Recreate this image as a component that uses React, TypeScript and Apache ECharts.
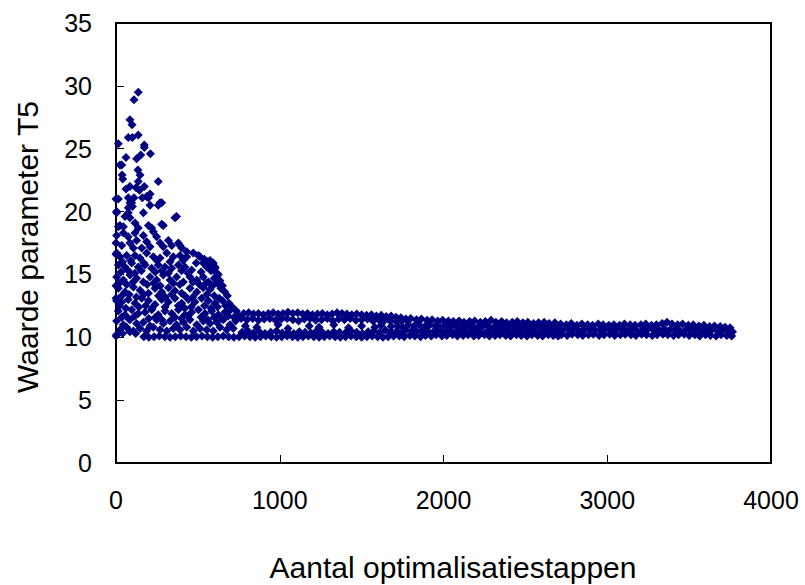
import React, { useEffect, useRef } from "react";
import * as echarts from "echarts";

// Axis settings and titles
const xTitle = "Aantal optimalisatiestappen";
const yTitle = "Waarde parameter T5";
const xTicks = [0, 1000, 2000, 3000, 4000];
const yTicks = [0, 5, 10, 15, 20, 25, 30, 35];

// Early phase: sparse upper points (step, T5)
const earlyUpper: number[][] = [
  [136, 29.5], [110, 28.9], [85, 27.3], [98, 26.9], [75, 25.9], [100, 25.9], [136, 26.1], [14, 25.4],
  [173, 25.3], [173, 25.1], [61, 24.3], [126, 24.2], [151, 24.5], [210, 24.6], [35, 23.7], [24, 23.7],
  [134, 23.3], [147, 22.9], [37, 22.9], [41, 22.6], [136, 22.4], [258, 22.4], [85, 22.0], [122, 21.9],
  [173, 22.0], [61, 21.8], [143, 21.7], [208, 21.4], [198, 21.1], [14, 21.0], [75, 21.1], [110, 21.1],
  [161, 21.1], [85, 20.7], [100, 20.4], [208, 20.5], [269, 20.7], [258, 20.5], [75, 20.3], [279, 20.7],
  [360, 19.5], [370, 19.6], [279, 19.0], [289, 18.9], [187, 21.2], [0, 21.0], [0, 17.5], [0, 16.6],
  [0, 14.1], [0, 13.1], [381, 17.5], [391, 17.3], [320, 17.7], [503, 16.5], [513, 16.4], [574, 16.1],
  [594, 15.9], [605, 15.6], [615, 15.1], [96, 20.7], [4, 20.0], [75, 19.9], [55, 19.6], [85, 19.5],
  [167, 19.9], [24, 18.9], [45, 18.8], [116, 19.1], [136, 18.7], [198, 18.9], [218, 18.7], [4, 18.1],
  [45, 18.3], [75, 18.0], [116, 18.3], [126, 17.7], [167, 18.1], [187, 17.6], [228, 18.4], [248, 18.0],
  [35, 17.3], [85, 17.5], [106, 17.1], [157, 17.1], [208, 17.2], [269, 17.5], [289, 17.2], [340, 17.3],
  [401, 17.1], [432, 16.8], [14, 18.8], [4, 19.9]
];

// Early phase: dense cloud between ~10 and ~16.5
const earlyDense: number[][] = [
  [4, 16.7], [24, 16.4], [65, 16.5], [116, 16.5], [147, 16.3], [187, 16.7], [228, 16.4], [269, 16.3],
  [310, 16.7], [350, 16.4], [391, 16.5], [432, 16.4], [472, 16.7], [540, 16.2],
  [40, 16.0], [90, 16.1], [170, 15.9], [250, 16.1], [330, 16.0], [410, 16.1], [490, 15.9], [560, 16.0], [590, 15.8],
  [14, 15.75], [55, 15.6], [96, 15.9], [136, 15.6], [177, 15.75], [218, 15.5], [258, 15.75], [299, 15.6],
  [340, 15.5], [381, 15.75], [421, 15.6], [462, 15.35], [533, 15.9], [554, 15.6], [605, 15.5],
  [30, 15.2], [75, 15.3], [115, 15.1], [155, 15.3], [240, 15.2], [280, 15.3], [320, 15.1], [400, 15.3],
  [440, 15.1], [520, 15.2], [580, 15.3], [625, 15.0],
  [4, 14.8], [45, 14.55], [85, 14.95], [126, 14.7], [167, 14.4], [208, 14.8], [248, 14.55], [289, 14.95],
  [330, 14.55], [370, 14.8], [411, 14.4], [452, 14.8], [493, 14.55], [533, 14.8], [564, 14.4], [600, 14.7], [635, 14.5],
  [20, 14.3], [65, 14.2], [105, 14.4], [190, 14.2], [230, 14.3], [270, 14.1], [350, 14.3], [390, 14.2],
  [470, 14.4], [510, 14.2], [550, 14.3], [590, 14.1], [620, 14.3], [650, 14.1],
  [14, 13.9], [55, 13.6], [106, 14.0], [147, 13.75], [198, 13.5], [238, 13.9], [279, 13.6], [320, 13.95],
  [360, 13.7], [401, 13.5], [452, 13.9], [493, 13.6], [533, 13.95], [574, 13.8], [640, 13.9], [665, 13.6],
  [35, 13.3], [80, 13.4], [125, 13.2], [170, 13.4], [260, 13.3], [300, 13.2], [340, 13.4], [420, 13.3],
  [470, 13.2], [555, 13.4], [600, 13.3], [630, 13.1], [680, 13.3],
  [4, 12.9], [35, 12.8], [75, 13.0], [116, 12.7], [157, 13.1], [198, 12.9], [238, 12.6], [279, 13.0],
  [320, 12.8], [360, 13.1], [401, 12.7], [442, 13.0], [482, 12.8], [523, 13.1], [564, 12.9], [605, 12.7], [650, 12.9], [690, 12.7],
  [20, 12.5], [60, 12.3], [140, 12.4], [180, 12.5], [220, 12.3], [300, 12.4], [380, 12.5], [420, 12.3],
  [460, 12.4], [540, 12.5], [580, 12.3], [620, 12.4], [670, 12.5], [710, 12.4],
  [14, 12.1], [55, 11.8], [96, 12.2], [136, 11.9], [177, 12.0], [218, 12.2], [258, 11.8], [299, 12.1],
  [340, 11.9], [381, 12.2], [421, 11.8], [462, 12.0], [503, 12.2], [543, 11.9], [584, 12.1], [625, 11.8],
  [665, 12.0], [700, 12.2], [735, 12.1],
  [35, 11.6], [75, 11.5], [115, 11.7], [200, 11.5], [240, 11.6], [280, 11.4], [360, 11.6], [400, 11.5],
  [440, 11.7], [520, 11.6], [560, 11.4], [600, 11.6], [645, 11.5], [685, 11.7], [720, 11.6], [750, 11.7],
  [4, 11.3], [45, 11.0], [85, 11.4], [126, 11.1], [167, 11.2], [208, 10.9], [248, 11.4], [289, 11.1],
  [330, 11.3], [370, 11.0], [411, 11.2], [452, 11.4], [493, 11.0], [533, 11.3], [574, 11.1], [615, 11.2],
  [655, 11.4], [696, 11.0], [730, 11.3],
  [24, 10.6], [65, 10.8], [106, 10.5], [147, 10.7], [187, 10.5], [228, 10.8], [269, 10.6], [310, 10.5],
  [350, 10.7], [391, 10.6], [432, 10.8], [472, 10.5], [513, 10.7], [554, 10.6], [594, 10.5], [635, 10.8],
  [676, 10.6], [716, 10.7],
  [0, 10.1], [4, 10.2], [85, 10.45], [40, 10.3], [120, 10.3]
];

// Lower limit line near T5 = 10
const baseline: number[][] = [
  [170, 10.05], [200, 10.0], [232, 10.05], [265, 10.1], [298, 10.05], [330, 10.0], [362, 10.05], [395, 10.1],
  [428, 10.05], [460, 10.0], [492, 10.05], [525, 10.1], [558, 10.05], [590, 10.0], [622, 10.05], [655, 10.1],
  [688, 10.05], [720, 10.0], [752, 10.05], [785, 10.1], [818, 10.05], [850, 10.0], [882, 10.05], [915, 10.1],
  [948, 10.05], [980, 10.0], [1012, 10.05], [1045, 10.1], [1078, 10.05], [1110, 10.0], [1142, 10.05], [1175, 10.1],
  [1208, 10.05], [1240, 10.0], [1272, 10.05], [1305, 10.1], [1338, 10.05], [1370, 10.0], [1402, 10.05], [1435, 10.1],
  [1468, 10.05], [1500, 10.0], [1532, 10.05], [1565, 10.1], [1598, 10.05], [1630, 10.0], [1662, 10.05], [1695, 10.1]
];

// Band 750 - 1750
const bandMid: number[][] = [
  [780, 11.9], [810, 11.95], [840, 11.85], [870, 11.9], [900, 11.8], [930, 11.9], [960, 11.95], [990, 11.85],
  [1020, 11.9], [1050, 12.0], [1080, 11.9], [1110, 11.95], [1140, 11.85], [1170, 11.9], [1200, 11.8], [1230, 11.85],
  [1260, 11.9], [1290, 11.8], [1320, 11.85], [1350, 11.95], [1380, 11.9], [1410, 11.85], [1440, 11.8], [1470, 11.85],
  [1500, 11.8], [1530, 11.75], [1560, 11.8], [1590, 11.7], [1620, 11.75], [1650, 11.65], [1680, 11.7], [1710, 11.6], [1740, 11.55],
  [765, 11.5], [800, 11.4], [835, 11.5], [870, 11.35], [905, 11.45], [940, 11.5], [975, 11.35], [1010, 11.45],
  [1045, 11.5], [1080, 11.4], [1115, 11.3], [1150, 11.45], [1185, 11.5], [1220, 11.35], [1255, 11.4], [1290, 11.5],
  [1325, 11.3], [1360, 11.45], [1395, 11.4], [1430, 11.5], [1465, 11.35], [1500, 11.4], [1535, 11.45], [1570, 11.3],
  [1605, 11.4], [1640, 11.35], [1675, 11.3], [1710, 11.25], [1745, 11.3],
  [790, 10.9], [860, 10.8], [990, 11.0], [1050, 10.7], [1180, 10.9], [1240, 10.8], [1330, 11.0], [1420, 10.75],
  [1500, 10.9], [1580, 10.8], [1620, 10.95], [1680, 10.85], [1720, 10.9], [1750, 10.8],
  [770, 10.4], [805, 10.5], [840, 10.35], [875, 10.45], [910, 10.3], [945, 10.4], [980, 10.5], [1015, 10.35],
  [1050, 10.4], [1085, 10.3], [1120, 10.45], [1155, 10.4], [1190, 10.35], [1225, 10.5], [1260, 10.4], [1295, 10.3],
  [1330, 10.45], [1365, 10.4], [1400, 10.35], [1435, 10.5], [1470, 10.4], [1505, 10.3], [1540, 10.45], [1575, 10.5],
  [1610, 10.4], [1645, 10.55], [1680, 10.45], [1715, 10.5], [1750, 10.4]
];

// Band 1750 - 2700
const bandLate: number[][] = [
  [1770, 11.45], [1800, 11.5], [1835, 11.4], [1865, 11.45], [1900, 11.35], [1930, 11.4], [1965, 11.3], [1995, 11.35],
  [2030, 11.3], [2060, 11.25], [2095, 11.3], [2125, 11.2], [2160, 11.25], [2190, 11.3], [2225, 11.2], [2255, 11.25],
  [2290, 11.35], [2320, 11.2], [2355, 11.25], [2385, 11.15], [2420, 11.2], [2450, 11.25], [2485, 11.15], [2515, 11.2],
  [2550, 11.1], [2580, 11.15], [2615, 11.2], [2645, 11.1], [2680, 11.15],
  [1785, 11.0], [1820, 10.9], [1850, 11.0], [1885, 10.85], [1915, 10.95], [1950, 10.9], [1980, 10.8], [2015, 10.95],
  [2045, 10.85], [2080, 10.9], [2110, 10.8], [2145, 10.9], [2175, 10.85], [2210, 10.8], [2240, 10.9], [2275, 10.85],
  [2305, 10.75], [2340, 10.85], [2370, 10.8], [2405, 10.9], [2435, 10.8], [2470, 10.85], [2500, 10.75], [2535, 10.8],
  [2565, 10.85], [2600, 10.75], [2630, 10.8], [2665, 10.85], [2695, 10.75],
  [1770, 10.55], [1805, 10.5], [1835, 10.45], [1870, 10.55], [1900, 10.5], [1935, 10.4], [1965, 10.5], [2000, 10.45],
  [2030, 10.55], [2065, 10.4], [2095, 10.5], [2130, 10.45], [2160, 10.4], [2195, 10.5], [2225, 10.45], [2260, 10.4],
  [2290, 10.5], [2325, 10.4], [2355, 10.45], [2390, 10.5], [2420, 10.4], [2455, 10.45], [2485, 10.5], [2520, 10.4],
  [2550, 10.45], [2585, 10.4], [2615, 10.5], [2650, 10.45], [2680, 10.4],
  [1730, 10.1], [1760, 10.05], [1795, 10.15], [1825, 10.1], [1860, 10.05], [1890, 10.15], [1925, 10.1], [1955, 10.2],
  [1990, 10.1], [2020, 10.15], [2055, 10.2], [2085, 10.1], [2120, 10.15], [2150, 10.2], [2185, 10.1], [2215, 10.15],
  [2250, 10.2], [2280, 10.1], [2315, 10.15], [2345, 10.2], [2380, 10.15], [2410, 10.1], [2445, 10.2], [2475, 10.15],
  [2510, 10.1], [2540, 10.2], [2575, 10.15], [2605, 10.1], [2640, 10.2], [2670, 10.15], [2700, 10.1]
];

// Band 2700 - 3760
const bandEnd: number[][] = [
  [2715, 11.05], [2750, 11.0], [2780, 11.1], [2815, 10.95], [2845, 11.05], [2880, 11.0], [2910, 10.95], [2945, 11.05],
  [2975, 11.0], [3010, 10.95], [3040, 11.0], [3075, 10.95], [3105, 11.05], [3140, 11.0], [3170, 10.95], [3205, 11.0],
  [3235, 11.05], [3270, 10.95], [3300, 11.0], [3335, 11.1], [3365, 11.2], [3395, 11.05], [3430, 11.0], [3460, 11.05],
  [3495, 10.95], [3525, 11.0], [3560, 10.9], [3590, 10.95], [3625, 10.85], [3655, 10.9], [3690, 10.85], [3720, 10.8], [3750, 10.75],
  [2700, 10.6], [2730, 10.55], [2765, 10.65], [2795, 10.6], [2830, 10.5], [2860, 10.6], [2895, 10.65], [2925, 10.55],
  [2960, 10.6], [2990, 10.65], [3025, 10.55], [3055, 10.6], [3090, 10.65], [3120, 10.55], [3155, 10.6], [3185, 10.5],
  [3220, 10.6], [3250, 10.65], [3285, 10.55], [3315, 10.6], [3350, 10.65], [3380, 10.55], [3415, 10.6], [3445, 10.5],
  [3480, 10.6], [3510, 10.55], [3545, 10.6], [3575, 10.5], [3610, 10.55], [3640, 10.6], [3675, 10.5], [3705, 10.55],
  [3740, 10.5], [3765, 10.45],
  [2720, 10.2], [2755, 10.15], [2785, 10.25], [2820, 10.2], [2850, 10.15], [2885, 10.2], [2915, 10.25], [2950, 10.15],
  [2980, 10.2], [3015, 10.25], [3045, 10.15], [3080, 10.2], [3110, 10.25], [3145, 10.2], [3175, 10.15], [3210, 10.25],
  [3240, 10.2], [3275, 10.15], [3305, 10.2], [3340, 10.25], [3370, 10.2], [3405, 10.15], [3435, 10.2], [3470, 10.25],
  [3500, 10.15], [3535, 10.2], [3565, 10.1], [3600, 10.2], [3630, 10.15], [3665, 10.1], [3695, 10.2], [3730, 10.15], [3760, 10.1]
];

const FONT = "'Liberation Sans', Arial, sans-serif";

export default function App() {
  const ref = useRef<HTMLDivElement>(null);
  useEffect(() => {
    if (!ref.current) return;
    const chart = echarts.init(ref.current, null, { renderer: "svg" });
    const allPoints = [...earlyUpper, ...earlyDense, ...baseline, ...bandMid, ...bandLate, ...bandEnd];
    chart.setOption({
      animation: false,
      backgroundColor: "#ffffff",
      grid: { left: 116, right: 34, top: 23, bottom: 122, show: true, borderColor: "#000", borderWidth: 2 },
      xAxis: {
        type: "value",
        min: xTicks[0],
        max: xTicks[xTicks.length - 1],
        interval: 1000,
        splitLine: { show: false },
        axisLine: { lineStyle: { color: "#000", width: 2 } },
        axisTick: { inside: true, length: 8, lineStyle: { color: "#000", width: 1 } },
        axisLabel: { color: "#000", fontSize: 25, fontFamily: FONT, margin: 24, formatter: (v: number) => String(v) },
      },
      yAxis: {
        type: "value",
        min: yTicks[0],
        max: yTicks[yTicks.length - 1],
        interval: 5,
        splitLine: { show: false },
        axisLine: { lineStyle: { color: "#000", width: 2 } },
        axisTick: { inside: true, length: 8, lineStyle: { color: "#000", width: 1 } },
        axisLabel: { color: "#000", fontSize: 25, fontFamily: FONT, margin: 24, formatter: (v: number) => String(v) },
      },
      graphic: [
        {
          type: "text",
          x: 453,
          y: 567,
          style: { text: xTitle, fontSize: 30, fontFamily: FONT, fill: "#000", textAlign: "center", textVerticalAlign: "middle" },
        },
        {
          type: "text",
          x: 27,
          y: 247,
          rotation: Math.PI / 2,
          style: { text: yTitle, fontSize: 30, fontFamily: FONT, fill: "#000", textAlign: "center", textVerticalAlign: "middle" },
        },
      ],
      series: [
        {
          type: "scatter",
          data: allPoints,
          symbol: "diamond",
          symbolSize: 9,
          itemStyle: { color: "#000080", opacity: 1 },
        },
      ],
    });
    return () => chart.dispose();
  }, []);
  return <div ref={ref} style={{ position: "absolute", left: 0, top: 0, width: 805, height: 585 }} />;
}
